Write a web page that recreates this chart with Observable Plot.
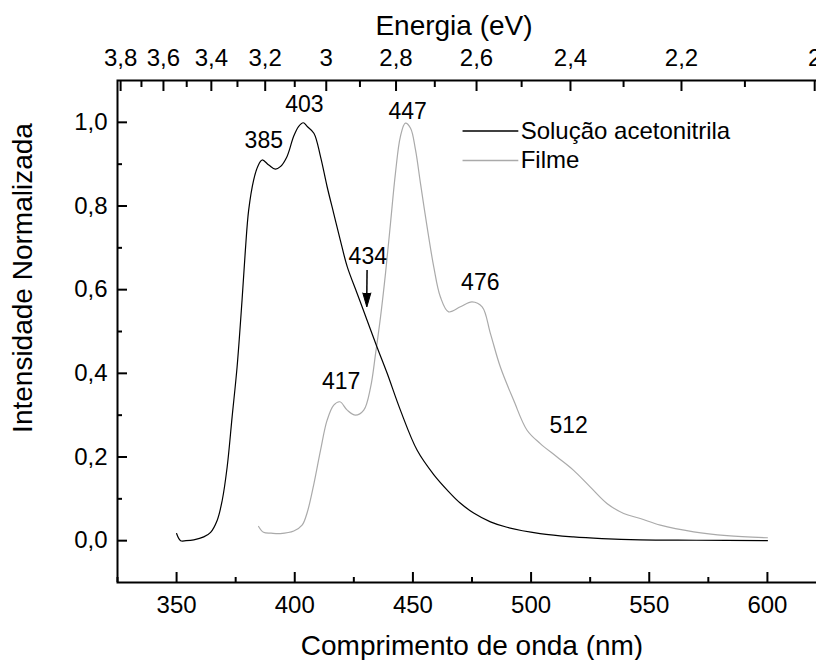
<!DOCTYPE html>
<html><head><meta charset="utf-8">
<script src="https://cdn.jsdelivr.net/npm/d3@7"></script>
<script src="https://cdn.jsdelivr.net/npm/@observablehq/plot@0.6"></script>
<style>
html,body{margin:0;padding:0;overflow:hidden;background:#fff;}
#chart{width:832px;}
#chart svg{display:block;max-width:none !important;}
</style></head><body><div id="chart"></div>
<script>
// Solução acetonitrila (black)
const solWl  = [350, 351.7, 354, 357.3, 361.5, 364.4, 367.2, 369.3, 371.4, 373.5, 375.6, 377.7, 379.1, 380.5, 382.6, 384.3, 386.2, 389, 391.8, 393.9, 396.7, 399.5, 401.6, 403.6, 405.3, 408.1, 410.9, 413.7, 416.5, 419.3, 422.2, 426.4, 430.6, 434.8, 439.1, 444.7, 451.8, 458.8, 465, 470, 475.7, 482.8, 489.8, 503.8, 517.9, 530, 546.2, 570, 600];
const solVal = [0.017, 0.0, 0.0, 0.002, 0.009, 0.02, 0.049, 0.096, 0.176, 0.296, 0.415, 0.575, 0.694, 0.79, 0.862, 0.894, 0.91, 0.898, 0.888, 0.894, 0.918, 0.966, 0.99, 0.999, 0.99, 0.974, 0.918, 0.846, 0.782, 0.718, 0.655, 0.591, 0.527, 0.463, 0.4, 0.312, 0.216, 0.158, 0.118, 0.09, 0.066, 0.045, 0.032, 0.017, 0.009, 0.005, 0.002, 0.001, 0.0];
// Filme (gray)
const filWl  = [384.7, 386.8, 390, 393.9, 399.6, 403.1, 405.3, 408.1, 410.9, 413.7, 416.5, 419.1, 422.2, 425.7, 429.2, 432.1, 434.2, 436.3, 438.4, 440.5, 442.6, 444.7, 446.8, 449, 451.1, 453.2, 456, 458.8, 461.6, 465.1, 470.1, 475, 479.3, 482.8, 487, 492.6, 498.3, 503.9, 511, 518, 525.1, 532.1, 539.2, 546.2, 554.7, 568.8, 582.9, 600];
const filVal = [0.034, 0.02, 0.018, 0.017, 0.023, 0.037, 0.068, 0.136, 0.216, 0.288, 0.324, 0.332, 0.312, 0.3, 0.312, 0.367, 0.447, 0.535, 0.639, 0.758, 0.878, 0.966, 0.998, 0.986, 0.934, 0.854, 0.75, 0.655, 0.583, 0.547, 0.559, 0.571, 0.559, 0.495, 0.415, 0.336, 0.264, 0.232, 0.2, 0.168, 0.128, 0.089, 0.065, 0.053, 0.037, 0.021, 0.012, 0.007];

const energyTicks = [3.8, 3.6, 3.4, 3.2, 3.0, 2.8, 2.6, 2.4, 2.2, 2.0];
const energyMinor = [3.7, 3.5, 3.3, 3.1, 2.9, 2.7, 2.5, 2.3, 2.1];
const wlTicks = [350, 400, 450, 500, 550, 600];
const wlMinor = [325, 375, 425, 475, 525, 575];
const yTicks = [0, 0.2, 0.4, 0.6, 0.8, 1.0];
const yMinor = [0.1, 0.3, 0.5, 0.7, 0.9];

const peakLabels = ["385", "403", "447", "434", "417", "476", "512"];
const peakX = [386.9, 404.1, 447.8, 430.9, 419.6, 478.5, 515.9];
const peakY = [0.956, 1.042, 1.026, 0.679, 0.381, 0.617, 0.274];
const arrowWl = [430.6, 430.5];
const arrowVal = [0.647, 0.592];

const legendLabels = ["Solução acetonitrila", "Filme"];
const legendColors = ["#000000", "#aaaaaa"];
const legendY = [0.979, 0.909];
const legendX1 = 471, legendX2 = 494.6, legendTextX = 495.6;

const HC = 1240;
const sol = solWl.map((w, i) => ({w, v: solVal[i]}));
const fil = filWl.map((w, i) => ({w, v: filVal[i]}));
const peaks = peakLabels.map((t, i) => ({t, x: peakX[i], y: peakY[i]}));
const legend = legendLabels.map((t, i) => ({t, c: legendColors[i], y: legendY[i]}));

const commaFmt = d => d.toFixed(1).replace(".", ",");
const eFmt = d => { const e = Math.round(HC / d * 10) / 10; return Number.isInteger(e) ? String(e) : commaFmt(e); };

const chart = Plot.plot({
  width: 832, height: 660,
  marginLeft: 117, marginRight: 6, marginTop: 80, marginBottom: 78,
  style: {fontFamily: "'Liberation Sans', Arial, sans-serif", fontSize: "24px", color: "#000", background: "#fff", overflow: "visible", maxWidth: "none"},
  x: {domain: [325, 625]},
  y: {domain: [-0.1, 1.1]},
  marks: [
    Plot.frame({stroke: "#000", strokeWidth: 2}),
    Plot.axisX(wlTicks, {anchor: "bottom", tickSize: -10, tickPadding: 23, strokeWidth: 2, label: null, tickFormat: d => String(d)}),
    Plot.axisX(wlMinor, {anchor: "bottom", tickSize: -5, strokeWidth: 2, label: null, tickFormat: () => ""}),
    Plot.axisX(energyTicks.map(e => HC / e), {anchor: "top", tickSize: -10, tickPadding: 25, strokeWidth: 2, label: null, tickFormat: eFmt}),
    Plot.axisX(energyMinor.map(e => HC / e), {anchor: "top", tickSize: -6, strokeWidth: 2, label: null, tickFormat: () => ""}),
    Plot.axisY(yTicks, {anchor: "left", tickSize: -10, tickPadding: 20, strokeWidth: 2, label: null, tickFormat: commaFmt}),
    Plot.axisY(yMinor, {anchor: "left", tickSize: -5, strokeWidth: 2, label: null, tickFormat: () => ""}),
    Plot.line(fil, {x: "w", y: "v", stroke: "#aaaaaa", strokeWidth: 1.2, curve: "catmull-rom"}),
    Plot.line(sol, {x: "w", y: "v", stroke: "#000", strokeWidth: 1.2, curve: "catmull-rom"}),
    Plot.text(peaks, {x: "x", y: "y", text: "t", fontSize: 23, lineAnchor: "middle", fill: "#000"}),
    Plot.link([0], {x1: arrowWl[0], x2: arrowWl[1], y1: arrowVal[0], y2: arrowVal[1], stroke: "#000", strokeWidth: 1.5}),
    Plot.vector([0], {x: arrowWl[1], y: arrowVal[1], length: 14, r: 4, rotate: 180, anchor: "start", shape: "spike", fill: "#000", fillOpacity: 1, stroke: "#000", strokeWidth: 1}),
    Plot.link(legend, {x1: legendX1, x2: legendX2, y1: "y", y2: "y", stroke: "c", strokeWidth: 1.5}),
    Plot.text(legend, {x: legendTextX, y: "y", text: "t", textAnchor: "start", lineAnchor: "middle", fontSize: 24, fill: "#000"}),
    Plot.text(["Comprimento de onda (nm)"], {text: d => d, frameAnchor: "bottom", dy: 64, fontSize: 28, textAnchor: "middle", lineAnchor: "middle", fill: "#000"}),
    Plot.text(["Energia (eV)"], {text: d => d, frameAnchor: "top", dx: -18, dy: -54, fontSize: 28, textAnchor: "middle", lineAnchor: "middle", fill: "#000"}),
    Plot.text(["Intensidade Normalizada"], {text: d => d, frameAnchor: "left", dx: -94, dy: -53.5, rotate: -90, fontSize: 28, textAnchor: "middle", lineAnchor: "middle", fill: "#000"})
  ]
});
document.getElementById("chart").appendChild(chart);
</script></body></html>
